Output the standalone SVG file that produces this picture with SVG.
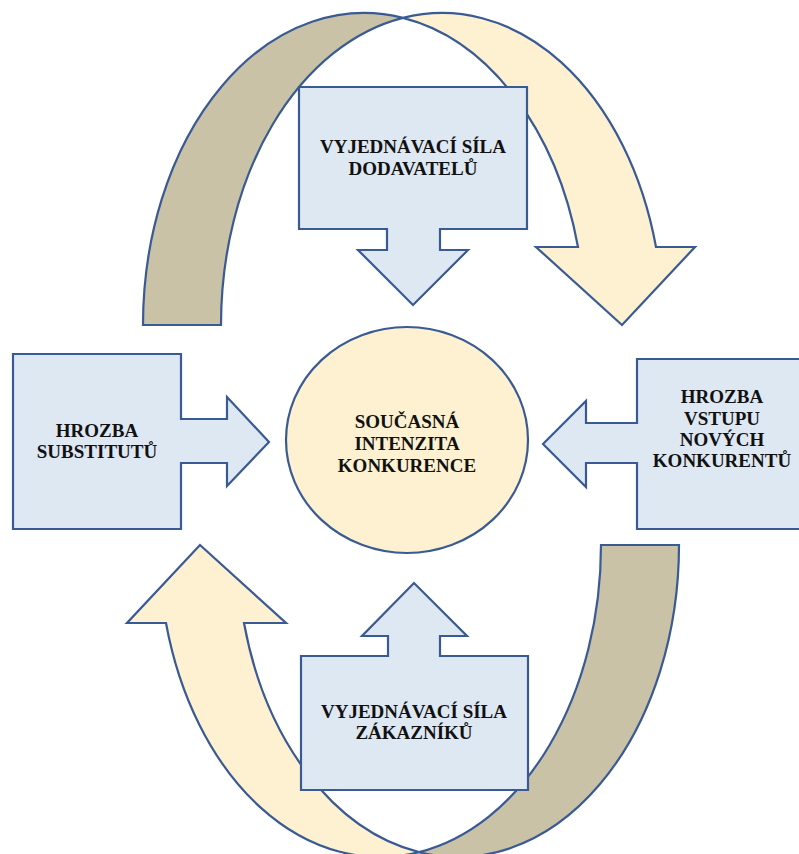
<svg xmlns="http://www.w3.org/2000/svg" width="799" height="854" viewBox="0 0 799 854">
<style>
.ln{stroke:#3A5A94;stroke-width:2.2;stroke-linejoin:miter}
.tan{fill:#C9C2A6}
.yel{fill:#FDF1D1}
.box{fill:#DEE8F3}
.t{font-family:"Liberation Serif","Times New Roman",serif;font-weight:bold;font-size:19px;fill:#111;text-anchor:middle}
</style>
<defs>
<g id="curved">
<path class="tan ln" d="M143,325 A221,312 0 0 1 403,17.9 A221,312 0 0 0 221,325 Z"/>
<path class="yel ln" d="M403,17.9 A221,312 0 0 1 656,247 L695,247 L622,325 L536,247 L578,247 A221,312 0 0 0 403,17.9 Z"/>
</g>
</defs>
<g id="connectors">
<use href="#curved"/>
<use href="#curved" transform="rotate(180 411 435)"/>
</g>
<g id="node-center">
<ellipse class="yel ln" cx="407" cy="440" rx="121" ry="113"/>
<text class="t" x="407" y="428">SOUČASNÁ</text>
<text class="t" x="407" y="450">INTENZITA</text>
<text class="t" x="407" y="472">KONKURENCE</text>
</g>
<g id="node-suppliers">
<path class="box ln" d="M299,87 H527 V229 H440 V250 H468 L413,305 L358,250 H387 V229 H299 Z"/>
<text class="t" x="413" y="153">VYJEDNÁVACÍ SÍLA</text>
<text class="t" x="413" y="175">DODAVATELŮ</text>
</g>
<g id="node-substitutes">
<path class="box ln" d="M13,354 H181 V419 H227 V397 L269,442 L227,486 V463 H181 V529 H13 Z"/>
<text class="t" x="97" y="437">HROZBA</text>
<text class="t" x="97" y="458">SUBSTITUTŮ</text>
</g>
<g id="node-entrants">
<path class="box ln" d="M808,359 H637 V423 H586 V401 L543,444 L586,487 V463 H637 V529 H808 Z"/>
<text class="t" x="722" y="403">HROZBA</text>
<text class="t" x="722" y="425">VSTUPU</text>
<text class="t" x="722" y="446">NOVÝCH</text>
<text class="t" x="722" y="467">KONKURENTŮ</text>
</g>
<g id="node-customers">
<path class="box ln" d="M301,790 H528 V656 H440 V636 H467 L414,583 L362,636 H388 V656 H301 Z"/>
<text class="t" x="414" y="718">VYJEDNÁVACÍ SÍLA</text>
<text class="t" x="414" y="739">ZÁKAZNÍKŮ</text>
</g>
</svg>
